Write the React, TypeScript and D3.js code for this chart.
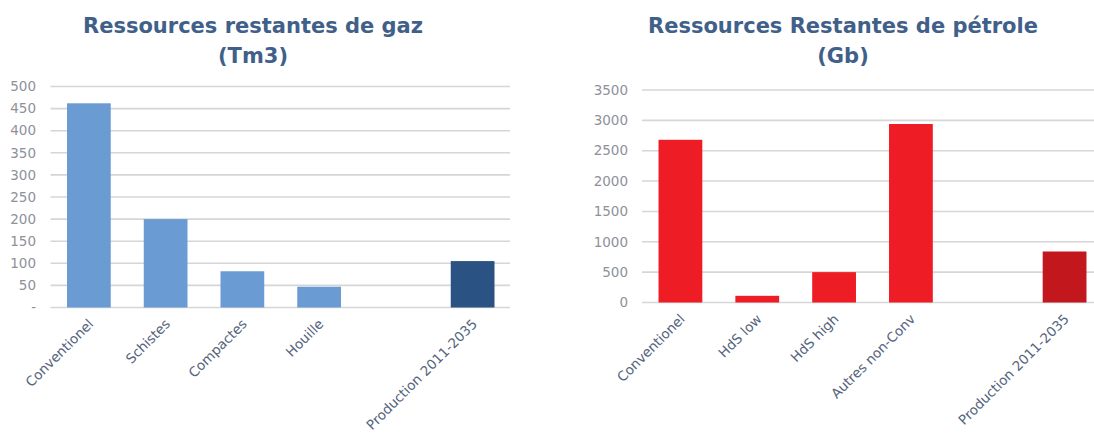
import * as d3 from 'd3'

// Gas resources (Tm3)
const gasCategories = ['Conventionel', 'Schistes', 'Compactes', 'Houille', '', 'Production 2011-2035']
const gasValues = [462, 200, 82, 47, null, 105]
const gasColors = ['#6a9bd2', '#6a9bd2', '#6a9bd2', '#6a9bd2', '#6a9bd2', '#2a5283']
const gasTicks = [0, 50, 100, 150, 200, 250, 300, 350, 400, 450, 500]
const gasTickLabels = ['-', '50', '100', '150', '200', '250', '300', '350', '400', '450', '500']

// Oil resources (Gb)
const oilCategories = ['Conventionel', 'HdS low', 'HdS high', 'Autres non-Conv', '', 'Production 2011-2035']
const oilValues = [2680, 110, 500, 2940, null, 840]
const oilColors = ['#ee1d25', '#ee1d25', '#ee1d25', '#ee1d25', '#ee1d25', '#c3171e']
const oilTicks = [0, 500, 1000, 1500, 2000, 2500, 3000, 3500]
const oilTickLabels = ['0', '500', '1000', '1500', '2000', '2500', '3000', '3500']

const FONT = '"DejaVu Sans", Verdana, sans-serif'

interface PanelProps {
  title: string[]
  titleX: number
  categories: string[]
  values: (number | null)[]
  colors: string[]
  ticks: number[]
  tickLabels: string[]
  max: number
  left: number
  right: number
  top: number
  bottom: number
  gridEnd: number
  labelRight: number
}

function BarPanel(p: PanelProps) {
  const x = d3.scaleBand<string>().domain(p.categories).range([p.left, p.right]).paddingInner(0.43).paddingOuter(0.215)
  const y = d3.scaleLinear().domain([0, p.max]).range([p.bottom, p.top])

  return (
    <g>
      {p.title.map((t, i) => (
        <text key={i} x={p.titleX} y={33 + i * 30} textAnchor="middle" fontFamily={FONT}
          fontWeight="bold" fontSize={21} fill="#40608a">{t}</text>
      ))}
      {/* grid */}
      {p.ticks.map((t, i) => (
        <g key={t}>
          <line x1={p.left} x2={p.gridEnd} y1={y(t)} y2={y(t)} stroke="#d6d6d6" strokeWidth={1.6} />
          <text x={p.labelRight} y={y(t)} dy="0.35em" textAnchor="end" fontFamily={FONT}
            fontSize={13.5} fill="#8e919a">{p.tickLabels[i]}</text>
        </g>
      ))}
      {/* bars */}
      {p.categories.map((c, i) => {
        const v = p.values[i]
        if (v == null) return null
        return <rect key={c} x={x(c)} y={y(v)} width={x.bandwidth()} height={y(0) - y(v)} fill={p.colors[i]} />
      })}
      {/* category labels */}
      {p.categories.map(c => {
        if (!c) return null
        const cx = (x(c) ?? 0) + x.bandwidth() / 2
        return (
          <text key={c} transform={`translate(${cx + 2},${p.bottom + 14}) rotate(-45)`} textAnchor="end"
            dy="0.35em" fontFamily={FONT} fontSize={13.5} fill="#56647e">{c}</text>
        )
      })}
    </g>
  )
}

export default function App() {
  return (
    <svg width={1094} height={435} style={{ position: 'absolute', left: 0, top: 0, background: '#fff' }}>
      <BarPanel title={['Ressources restantes de gaz', '(Tm3)']} titleX={253}
        categories={gasCategories} values={gasValues} colors={gasColors}
        ticks={gasTicks} tickLabels={gasTickLabels} max={500}
        left={50.5} right={511} top={86.5} bottom={307.5} gridEnd={510} labelRight={36} />
      <BarPanel title={['Ressources Restantes de pétrole', '(Gb)']} titleX={843}
        categories={oilCategories} values={oilValues} colors={oilColors}
        ticks={oilTicks} tickLabels={oilTickLabels} max={3500}
        left={642} right={1103} top={90} bottom={302.5} gridEnd={1094} labelRight={628} />
    </svg>
  )
}
